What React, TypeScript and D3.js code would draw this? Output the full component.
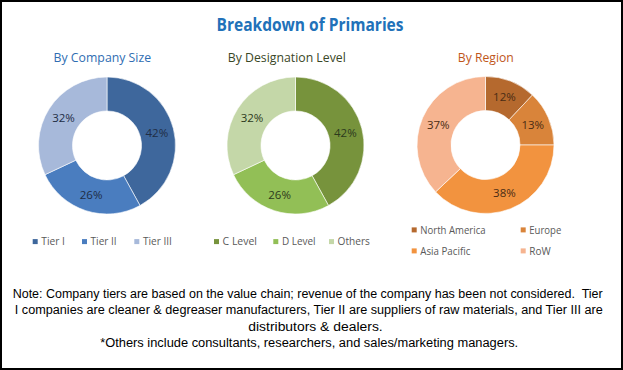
import React from 'react'
import * as d3 from 'd3'

const companyLabels = ['Tier I', 'Tier II', 'Tier III']
const companyValues = [42, 26, 32]
const designationLabels = ['C Level', 'D Level', 'Others']
const designationValues = [42, 26, 32]
const regionLabels = ['North America', 'Europe', 'Asia Pacific', 'RoW']
const regionValues = [12, 13, 38, 37]

const noteLines = [
  'Note: Company tiers are based on the value chain; revenue of the company has been not considered.  Tier',
  'I companies are cleaner & degreaser manufacturers, Tier II are suppliers of raw materials, and Tier III are',
  'distributors & dealers.',
  '*Others include consultants, researchers, and sales/marketing managers.',
]

const W = 623
const H = 370
const font = '"Open Sans", "Noto Sans", sans-serif'

type DonutProps = {
  cx: number
  cy: number
  title: string
  titleColor: string
  titleX: number
  titleW: number
  labels: string[]
  values: number[]
  colors: string[]
  labelColor: string
  legend: { x: number; y: number; w: number }[]
}

const Donut = ({ cx, cy, title, titleColor, titleX, titleW, labels, values, colors, labelColor, legend }: DonutProps) => {
  const pie = d3.pie<number>().sort(null).value(d => d)
  const arcs = pie(values)
  const arc = d3.arc<d3.PieArcDatum<number>>().innerRadius(34.5).outerRadius(68.5)
  return (
    <g>
      <text x={titleX} y={62} fill={titleColor} fontSize={12.5} fontFamily={font}
        textLength={titleW} lengthAdjust="spacingAndGlyphs">{title}</text>
      <g transform={`translate(${cx},${cy})`}>
        {arcs.map((a, i) => (
          <path key={i} d={arc(a) || ''} fill={colors[i]} stroke="#fff" strokeWidth={0.6} />
        ))}
        {arcs.map((a, i) => {
          const [x, y] = arc.centroid(a)
          return (
            <text key={i} x={x} y={y} dy="0.35em" textAnchor="middle" fontSize={11.5}
              fontFamily={font} fill={labelColor}>{d3.format('d')(values[i])}%</text>
          )
        })}
      </g>
      {labels.map((l, i) => (
        <g key={i}>
          <rect x={legend[i].x} y={legend[i].y - 2.6} width={5} height={5} fill={colors[i]} />
          <text x={legend[i].x + 8.6} y={legend[i].y} dy="0.35em" fontSize={10.5} fontFamily={font}
            fill="#595959" textLength={legend[i].w} lengthAdjust="spacingAndGlyphs">{l}</text>
        </g>
      ))}
    </g>
  )
}

export default function App() {
  return (
    <svg width={W} height={H} style={{ position: 'fixed', left: 0, top: 0, background: '#fff' }}>
      <rect x={1} y={1} width={W - 2} height={H - 2} fill="#fff" stroke="#000" strokeWidth={2} />
      <text x={310} y={31} textAnchor="middle" fontSize={17} fontWeight="bold" fontFamily={font}
        fill="#2171b9" textLength={187} lengthAdjust="spacingAndGlyphs">Breakdown of Primaries</text>

      <Donut cx={107} cy={145.5} title="By Company Size" titleColor="#2f6db2" titleX={53.6} titleW={97.5}
        labels={companyLabels} values={companyValues}
        colors={['#3e679c', '#4a7dbf', '#a7b9da']} labelColor="#1e2d45"
        legend={[{ x: 32.7, y: 241.7, w: 23.6 }, { x: 82, y: 241.7, w: 26 }, { x: 134.3, y: 241.7, w: 29 }]} />

      <Donut cx={295.5} cy={145.5} title="By Designation Level" titleColor="#3a4726" titleX={227.8} titleW={118}
        labels={designationLabels} values={designationValues}
        colors={['#77933c', '#92bf56', '#c4d7a8']} labelColor="#2c3a1c"
        legend={[{ x: 214, y: 241.7, w: 34.4 }, { x: 273.3, y: 241.7, w: 33.7 }, { x: 329, y: 241.7, w: 32.3 }]} />

      <Donut cx={485.5} cy={145} title="By Region" titleColor="#c0561a" titleX={457.8} titleW={56}
        labels={regionLabels} values={regionValues}
        colors={['#b5692e', '#d9843a', '#f2933f', '#f6b490']} labelColor="#4a2c14"
        legend={[{ x: 411.7, y: 230, w: 65.3 }, { x: 520.7, y: 230, w: 32 }, { x: 411.7, y: 251, w: 50 }, { x: 520.7, y: 251, w: 21.4 }]} />

      {noteLines.map((l, i) => {
        const pos = [
          { x: 307.7, y: 297.5, w: 590 },
          { x: 308.8, y: 314, w: 588 },
          { x: 315.5, y: 330.5, w: 134.4 },
          { x: 309.2, y: 347, w: 418 },
        ][i]
        return (
          <text key={i} x={pos.x} y={pos.y} textAnchor="middle" fontSize={12.5}
            fontFamily='"Liberation Sans", Arial, sans-serif' fill="#000" style={{ whiteSpace: 'pre' }}
            textLength={pos.w} lengthAdjust="spacingAndGlyphs">{l}</text>
        )
      })}
    </svg>
  )
}
